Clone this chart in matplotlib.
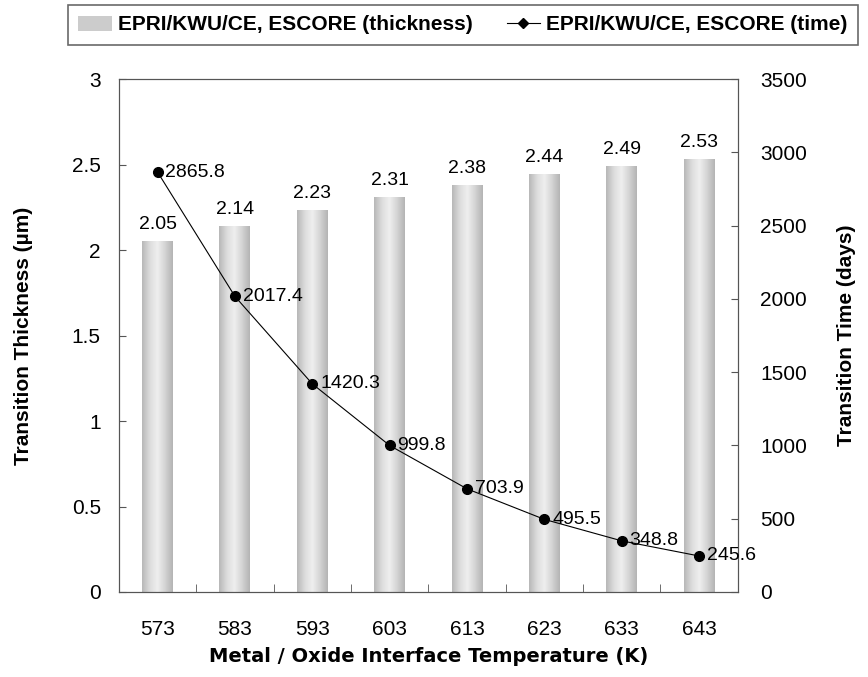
import numpy as np
import matplotlib
matplotlib.use("Agg")
import matplotlib.pyplot as plt
from matplotlib.colors import LinearSegmentedColormap
from matplotlib.lines import Line2D
from matplotlib.patches import Patch

temps = ["573", "583", "593", "603", "613", "623", "633", "643"]
thickness = [2.05, 2.14, 2.23, 2.31, 2.38, 2.44, 2.49, 2.53]
times = [2865.8, 2017.4, 1420.3, 999.8, 703.9, 495.5, 348.8, 245.6]
thick_labels = ["2.05", "2.14", "2.23", "2.31", "2.38", "2.44", "2.49", "2.53"]
time_labels = ["2865.8", "2017.4", "1420.3", "999.8", "703.9", "495.5", "348.8", "245.6"]

plt.rcParams['font.family'] = ['Liberation Sans', 'DejaVu Sans']

fig = plt.figure(figsize=(8.68, 6.77), dpi=100)
ax = fig.add_axes([0.137, 0.1256, 0.713, 0.7574])
x = np.arange(len(temps))
width = 0.40

cmap = LinearSegmentedColormap.from_list("cyl", ["#b8b8b8", "#dcdcdc", "#efefef", "#d4d4d4", "#b4b4b4"])
grad = np.linspace(0, 1, 64).reshape(1, -1)
bars = ax.bar(x, thickness, width=width, color="none", edgecolor="none", zorder=2)
for b in bars:
    x0, y0 = b.get_x(), b.get_y()
    w, h = b.get_width(), b.get_height()
    ax.imshow(grad, extent=[x0, x0 + w, y0, y0 + h], aspect="auto", cmap=cmap,
              zorder=2, interpolation="bicubic")
for xi, v, lab in zip(x, thickness, thick_labels):
    ax.text(xi, v + 0.05, lab, ha="center", va="bottom", fontsize=14)

ax.set_xlim(-0.5, len(temps) - 0.5)
ax.set_ylim(0, 3)
ax.set_yticks([0, 0.5, 1, 1.5, 2, 2.5, 3])
ax.set_yticklabels(["0", "0.5", "1", "1.5", "2", "2.5", "3"])
ax.set_xticks(x)
ax.set_xticklabels(temps)
ax.set_xticks(np.arange(len(temps) + 1) - 0.5, minor=True)
ax.tick_params(axis="x", which="major", length=0, labelsize=15, pad=20)
ax.tick_params(axis="x", which="minor", direction="in", length=6, color="#555555")
ax.tick_params(axis="y", direction="in", length=5, labelsize=15, pad=13, color="#555555")
ax.set_ylabel("Transition Thickness (\u00b5m)", fontsize=15, fontweight="bold", labelpad=28)
ax.set_xlabel("Metal / Oxide Interface Temperature (K)", fontsize=14, fontweight="bold",
              family=["DejaVu Sans"], labelpad=6)
for s in ax.spines.values():
    s.set_color("#555555")

ax2 = ax.twinx()
ax2.plot(x, times, color="black", lw=0.8, marker="o", markersize=7, zorder=3)
for xi, v, lab in zip(x, times, time_labels):
    ax2.text(xi + 0.1, v, lab, ha="left", va="center", fontsize=14)
ax2.set_ylim(0, 3500)
ax2.set_yticks(np.arange(0, 3501, 500))
ax2.tick_params(axis="y", direction="in", length=5, labelsize=15, pad=16, color="#555555")
ax2.set_ylabel("Transition Time (days)", fontsize=15, fontweight="bold", labelpad=22)
for s in ax2.spines.values():
    s.set_color("#555555")

handles = [Patch(facecolor="#cccccc", edgecolor="none"),
           Line2D([0], [0], color="black", lw=0.8, marker="D", markersize=5)]
leg = fig.legend(handles, ["EPRI/KWU/CE, ESCORE (thickness)", "EPRI/KWU/CE, ESCORE (time)"],
                 loc="center", bbox_to_anchor=(68 / 868, 1 - 45 / 677, 790 / 868, 40 / 677),
                 mode="expand", ncol=2, frameon=True, fancybox=False, edgecolor="#444444",
                 handlelength=1.6, handletextpad=0.3, columnspacing=1.0, borderpad=0.5,
                 borderaxespad=0, prop={"weight": "bold", "size": 15})
leg.get_frame().set_linewidth(1.2)

fig.savefig("out.png", dpi=100)
